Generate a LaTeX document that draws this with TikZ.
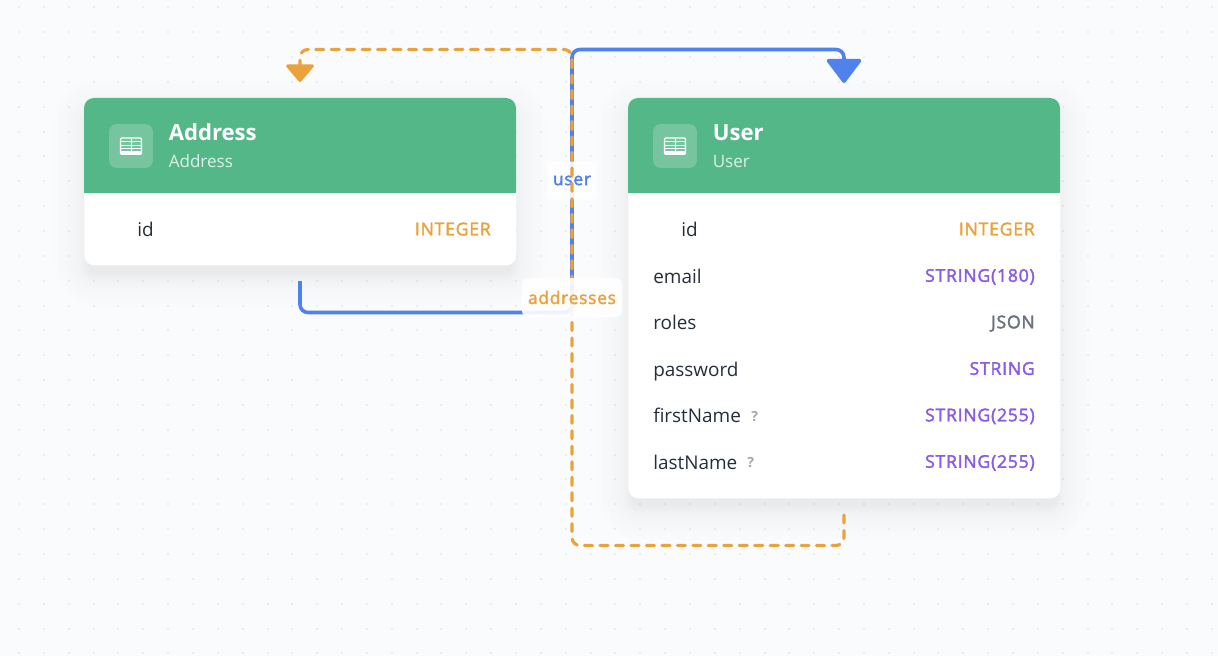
\documentclass[tikz,border=0pt]{standalone}
\usepackage{fontspec}
\setmainfont{Open Sans}
\newfontfamily\typefont{Open Sans}[FakeBold=2.2,LetterSpace=4.4]
\usetikzlibrary{arrows.meta}
\definecolor{pagebg}{RGB}{250,251,253}
\definecolor{griddot}{RGB}{234,236,240}
\definecolor{headgreen}{RGB}{84,183,135}
\definecolor{edgeblue}{RGB}{80,130,238}
\definecolor{edgeorange}{RGB}{236,162,60}
\definecolor{typepurple}{RGB}{137,92,230}
\definecolor{typegray}{RGB}{107,114,128}
\definecolor{fieldtext}{RGB}{38,46,60}
\tikzset{
  cardbox/.style={anchor=north west,fill=white,rounded corners=7.5pt,inner sep=0pt},
  shadowlayer/.style={fill=black,fill opacity=0.005},
  iconbox/.style={anchor=center,fill=white,fill opacity=0.2,rounded corners=6pt,minimum width=33pt,minimum height=33pt,inner sep=0pt},
  titletext/.style={anchor=base west,inner sep=0pt,text=white,font=\fontsize{16.6}{18}\selectfont\bfseries},
  subtext/.style={anchor=base west,inner sep=0pt,text=white,text opacity=0.8,font=\fontsize{12.8}{15}\selectfont},
  fieldname/.style={anchor=base west,inner sep=0pt,text=fieldtext,font=\fontsize{14.2}{16}\selectfont},
  optmark/.style={anchor=base west,inner sep=0pt,text=gray!70,font=\fontsize{10.5}{12}\selectfont\bfseries},
  fieldtype/.style={anchor=base east,inner sep=0pt,font=\fontsize{13.2}{14}\typefont},
  linklabel/.style={anchor=center,fill=white,fill opacity=0.9,text opacity=1,rounded corners=4.5pt,inner sep=0pt,font=\fontsize{13}{14}\typefont},
  blueedge/.style={draw=edgeblue,line width=2.7pt,rounded corners=6pt,-{Triangle[length=19pt,width=28pt,round]}},
  orangeedge/.style={draw=edgeorange,line width=2.4pt,line cap=round,dash pattern=on 6pt off 5.6pt,rounded corners=6pt,-{Triangle[length=14pt,width=23pt,round]}},
  tableicon/.pic={
    \draw[white,line width=1pt,rounded corners=0.8pt] (-10.5,-8.3) rectangle (10.5,8);
    \fill[white] (-10.5,-8.3) rectangle (10.5,-5.5);
    \draw[white,line width=0.7pt] (-10.5,-2.2) -- (10.5,-2.2) (-10.5,1) -- (10.5,1) (-10.5,4.5) -- (10.5,4.5) (0,-5.5) -- (0,8);
  }
}
\begin{document}
\begin{tikzpicture}[x=0.75pt,y=0.75pt,yscale=-1,xscale=1]
  \useasboundingbox (0,0) rectangle (1218,656);
  \fill[pagebg] (0,0) rectangle (1218,656);

  % dotted grid
  \foreach \i in {0,...,49}
    \foreach \j in {0,...,26}
      \fill[griddot] ({19+24.85*\i-1},{7.3+24.85*\j-1}) rectangle +(2,2);

  % soft shadows
  \foreach \l/\t/\r/\b in {84/98/516/265,628/98/1060/498}
    \foreach \s in {-4,-3,...,4,6,8,11,14,18,22,26,30}
      \fill[shadowlayer,rounded corners={(8+\s+4)*0.75pt}] (\l-\s,\t-\s+12) rectangle (\r+\s,\b+\s+12);

  % Address table
  \node (addressCard) [cardbox,minimum width=324pt,minimum height=125.25pt] at (84,98) {};
  \fill[headgreen] (84,193) [rounded corners=7.5pt] -- (84,98) -- (516,98) [sharp corners] -- (516,193) -- cycle;
  \node (addressIcon) [iconbox] at (131,146) {};
  \pic at (131,146) {tableicon};
  \node (addressTitle) [titletext] at (168.5,141) {Address};
  \node (addressSub) [subtext] at (168.5,167.5) {Address};
  \node (addressId) [fieldname] at (137,236.7) {id};
  \node (addressIdType) [fieldtype,text=edgeorange] at (491,235.3) {INTEGER};

  % User table
  \node (userCard) [cardbox,minimum width=324pt,minimum height=300pt] at (628,98) {};
  \fill[headgreen] (628,193) [rounded corners=7.5pt] -- (628,98) -- (1060,98) [sharp corners] -- (1060,193) -- cycle;
  \node (userIcon) [iconbox] at (675,146) {};
  \pic at (675,146) {tableicon};
  \node (userTitle) [titletext] at (712.5,141) {User};
  \node (userSub) [subtext] at (712.5,167.5) {User};
  \node (userId) [fieldname] at (681,236.7) {id};
  \node (userEmail) [fieldname] at (653,283.2) {email};
  \node (userRoles) [fieldname] at (653,329.7) {roles};
  \node (userPassword) [fieldname] at (653,376.2) {password};
  \node (userFirst) [fieldname] at (653,422.7) {firstName};
  \node (userLast) [fieldname] at (653,469.2) {lastName};
  \node (firstOpt) [optmark] at (751,421) {?};
  \node (lastOpt) [optmark] at (747,467.5) {?};
  \node (userIdType) [fieldtype,text=edgeorange] at (1035,235.3) {INTEGER};
  \node (userEmailType) [fieldtype,text=typepurple] at (1035,281.8) {STRING(180)};
  \node (userRolesType) [fieldtype,text=typegray] at (1035,328.3) {JSON};
  \node (userPasswordType) [fieldtype,text=typepurple] at (1035,374.8) {STRING};
  \node (userFirstType) [fieldtype,text=typepurple] at (1035,421.3) {STRING(255)};
  \node (userLastType) [fieldtype,text=typepurple] at (1035,467.8) {STRING(255)};

  % routing points
  \coordinate (addressOut) at (300,281);
  \coordinate (addressTurn) at (300,312.5);
  \coordinate (trunkLow) at (572,312.5);
  \coordinate (trunkTop) at (572,49.5);
  \coordinate (userTurn) at (844,49.5);
  \coordinate (userIn) at (844,83);
  \coordinate (userOut) at (844,515);
  \coordinate (userBelow) at (844,545.5);
  \coordinate (trunkBottom) at (572,545.5);
  \coordinate (addressTurnTop) at (300,49.5);
  \coordinate (addressIn) at (300,82);

  % user relation
  \draw[blueedge] (addressOut) -- (addressTurn) -- (trunkLow) -- (trunkTop) -- (userTurn) -- (userIn);
  \node (userLabel) [linklabel,text=edgeblue,minimum width=37.5pt,minimum height=28.5pt] at (572,180.5) {user};

  % addresses relation
  \draw[orangeedge] (userOut) -- (userBelow) -- (trunkBottom) -- (trunkTop) -- (addressTurnTop) -- (addressIn);
  \node (addressesLabel) [linklabel,text=edgeorange,minimum width=75pt,minimum height=29pt] at (572,297.5) {addresses};
\end{tikzpicture}
\end{document}
